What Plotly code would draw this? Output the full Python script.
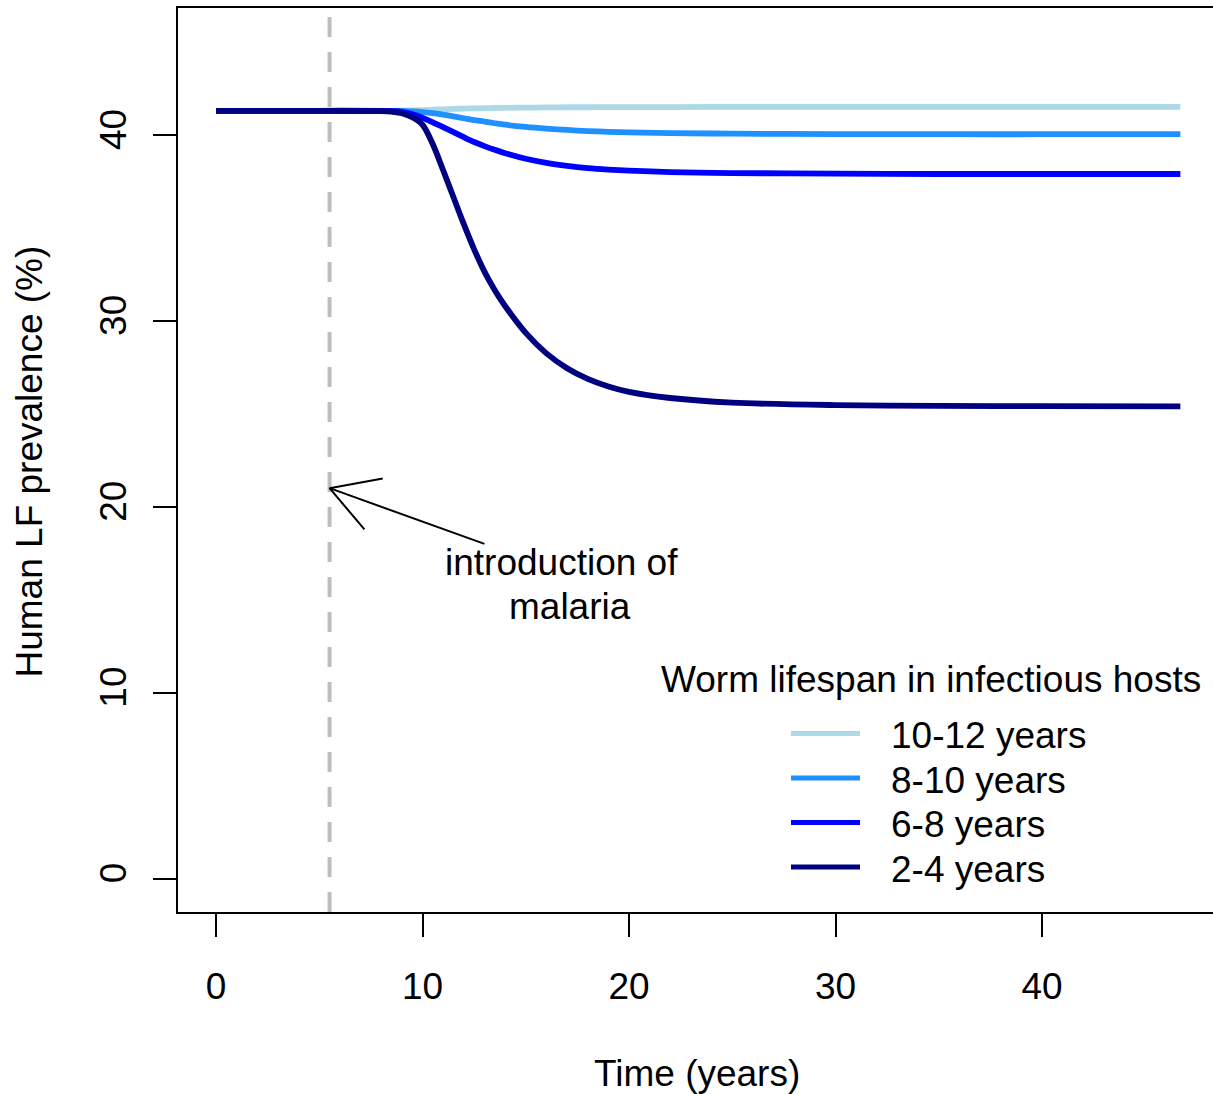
import math
import plotly.graph_objects as go

# ---------------- data ----------------
time_years = [0, 5, 8, 8.5, 9, 9.5, 10, 10.5, 11, 11.5, 12, 12.5, 13, 13.5, 14,
              15, 16, 17, 18, 19, 20, 22, 25, 30, 35, 40, 46.7]

prev_10_12 = [41.3, 41.3, 41.3, 41.3, 41.31, 41.32, 41.34, 41.36, 41.38, 41.4, 41.42,
              41.43, 41.44, 41.45, 41.46, 41.47, 41.48, 41.49, 41.49, 41.5, 41.5,
              41.5, 41.51, 41.51, 41.51, 41.51, 41.51]
prev_8_10 = [41.3, 41.3, 41.3, 41.3, 41.29, 41.27, 41.23, 41.17, 41.09, 41.0, 40.9,
             40.8, 40.72, 40.63, 40.55, 40.43, 40.34, 40.27, 40.21, 40.17, 40.14,
             40.1, 40.07, 40.05, 40.04, 40.04, 40.04]
prev_6_8 = [41.3, 41.3, 41.3, 41.28, 41.24, 41.12, 40.92, 40.68, 40.42, 40.15, 39.88,
            39.62, 39.4, 39.2, 39.02, 38.72, 38.5, 38.34, 38.22, 38.14, 38.08,
            38.0, 37.95, 37.92, 37.9, 37.9, 37.9]
prev_2_4 = [41.3, 41.3, 41.28, 41.25, 41.17, 40.95, 40.55, 39.5, 38.1, 36.65, 35.2,
            33.85, 32.65, 31.65, 30.8, 29.35, 28.25, 27.45, 26.88, 26.47, 26.18,
            25.85, 25.6, 25.47, 25.43, 25.41, 25.4]

series_names = ["10-12 years", "8-10 years", "6-8 years", "2-4 years"]
series_values = [prev_10_12, prev_8_10, prev_6_8, prev_2_4]
series_colors = ["#ADD8E6", "#1E90FF", "#0000FF", "#000080"]

x_ticks = [0, 10, 20, 30, 40]
y_ticks = [0, 10, 20, 30, 40]
malaria_intro_year = 5.5
arrow_tip = (5.5, 21.0)
arrow_tail = (13.0, 18.0)

legend_title = "Worm lifespan in infectious hosts"
x_title = "Time (years)"
y_title = "Human LF prevalence (%)"

# ---------------- layout geometry ----------------
W, H = 1213, 1094
ML, MR, MT, MB = 178, 0, 8, 182
PW, PH = W - ML - MR, H - MT - MB
x_range = [-1.84, 48.28]
y_range = [-1.80, 46.83]
sx = PW / (x_range[1] - x_range[0])   # px per x unit
sy = PH / (y_range[1] - y_range[0])   # px per y unit


def px(xp):
    return (xp - ML) / PW


def py(yp):
    return (MT + PH - yp) / PH


FONT = "Liberation Sans, Arial, sans-serif"
FS = 37

fig = go.Figure()
for name, vals, col in zip(series_names, series_values, series_colors):
    fig.add_trace(go.Scatter(
        x=time_years, y=vals, mode="lines", name=name,
        line=dict(color=col, width=5.8, shape="spline", smoothing=0.9),
        showlegend=False, hoverinfo="skip"))

shapes = []
# dashed vertical line
shapes.append(dict(type="line", xref="x", yref="paper",
                   x0=malaria_intro_year, x1=malaria_intro_year, y0=0, y1=1,
                   line=dict(color="#BEBEBE", width=4, dash="20px,15px"), layer="below"))

# arrow (open V head, like R arrows())
shapes.append(dict(type="line", xref="x", yref="y",
                   x0=arrow_tail[0], y0=arrow_tail[1], x1=arrow_tip[0], y1=arrow_tip[1],
                   line=dict(color="black", width=2)))
dxp = (arrow_tail[0] - arrow_tip[0]) * sx
dyp = (arrow_tail[1] - arrow_tip[1]) * sy
ang = math.atan2(dyp, dxp)
head_len = 54
for s in (-1, 1):
    a = ang + s * math.radians(30)
    hx = arrow_tip[0] + head_len * math.cos(a) / sx
    hy = arrow_tip[1] + head_len * math.sin(a) / sy
    shapes.append(dict(type="line", xref="x", yref="y",
                       x0=arrow_tip[0], y0=arrow_tip[1], x1=hx, y1=hy,
                       line=dict(color="black", width=2)))

annotations = []
annotations.append(dict(x=16.71, y=17.0, xref="x", yref="y", text="introduction of",
                        showarrow=False, xanchor="center", yanchor="middle",
                        font=dict(family=FONT, size=FS, color="black")))
annotations.append(dict(x=17.14, y=14.63, xref="x", yref="y", text="malaria",
                        showarrow=False, xanchor="center", yanchor="middle",
                        font=dict(family=FONT, size=FS, color="black")))

# manual legend (R-style)
annotations.append(dict(x=px(931), y=py(679), xref="paper", yref="paper",
                        text=legend_title, showarrow=False, xanchor="center",
                        yanchor="middle", font=dict(family=FONT, size=FS, color="black")))
leg_rows = [733.5, 778, 822.5, 867]
for name, col, yp in zip(series_names, series_colors, leg_rows):
    shapes.append(dict(type="line", xref="paper", yref="paper",
                       x0=px(791), x1=px(860), y0=py(yp), y1=py(yp),
                       line=dict(color=col, width=5)))
    annotations.append(dict(x=px(889), y=py(yp + 2), xref="paper", yref="paper",
                            text=name, showarrow=False, xanchor="left", yanchor="middle",
                            font=dict(family=FONT, size=FS, color="black")))

# axis titles
annotations.append(dict(x=px(696.5), y=py(1073), xref="paper", yref="paper",
                        text=x_title, showarrow=False, xanchor="center", yanchor="middle",
                        font=dict(family=FONT, size=FS, color="black")))
annotations.append(dict(x=px(29), y=py(461.5), xref="paper", yref="paper",
                        text=y_title, showarrow=False, xanchor="center", yanchor="middle",
                        textangle=-90, font=dict(family=FONT, size=FS, color="black")))

fig.update_layout(
    width=W, height=H,
    margin=dict(l=ML, r=MR, t=MT, b=MB, pad=0),
    paper_bgcolor="white", plot_bgcolor="white",
    shapes=shapes, annotations=annotations,
    showlegend=False,
    font=dict(family=FONT, size=FS, color="black"),
    xaxis=dict(range=x_range, tickvals=x_ticks, ticktext=[str(v) for v in x_ticks],
               ticks="outside", ticklen=23, tickwidth=2, tickcolor="black",
               showline=True, linecolor="black", linewidth=2, mirror=True,
               showgrid=False, zeroline=False, ticklabelstandoff=18,
               tickfont=dict(family=FONT, size=FS, color="black")),
    yaxis=dict(range=y_range, tickvals=y_ticks, ticktext=[str(v) for v in y_ticks],
               ticks="outside", ticklen=23, tickwidth=2, tickcolor="black",
               showline=True, linecolor="black", linewidth=2,
               showgrid=False, zeroline=False, tickangle=-90, ticklabelstandoff=12,
               tickfont=dict(family=FONT, size=FS, color="black")),
)

fig.write_html("out.html")
